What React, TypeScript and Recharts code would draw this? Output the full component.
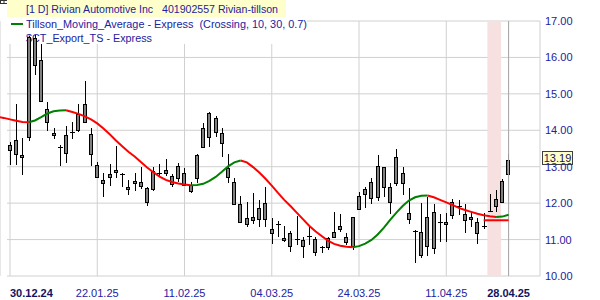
import React from 'react';
import {
  ComposedChart,
  Bar,
  Line,
  XAxis,
  YAxis,
  CartesianGrid,
  ReferenceArea,
  ReferenceLine,
  Customized,
} from 'recharts';

// x = trading-day index, 0 = 30.12.24 ... 80 = 28.04.25
const tickIdx = [0, 14, 28, 42, 56, 70, 80];
const tickLabels = ['30.12.24', '22.01.25', '11.02.25', '04.03.25', '24.03.25', '11.04.25', '28.04.25'];
const boldTicks = ['30.12.24', '28.04.25'];
const priceTicks = [10, 11, 12, 13, 14, 15, 16, 17];

// daily candles, index 0..80
const open = [
  13.46, 13.34, 13.31, 13.82, 16.54, 15.93, 14.58, 13.93, 13.55, 13.39,
  13.96, 14.01, 14.24, 13.89, 13.06, 12.63, 12.71, 12.91, 12.81, 12.43,
  12.54, 12.58, 12.41, 12.39, 12.84, 12.83, 12.74, 12.68, 12.83, 12.5,
  12.7, 13.53, 13.81, 14.33, 13.92, 12.97, 12.59, 11.98, 11.58, 11.54,
  11.86, 12.01, 11.28, 11.44, 11.04, 11.17, 11.02, 10.99, 11.09, 11.01,
  10.79, 10.79, 11.08, 11.3, 10.92, 10.81, 11.85, 12.24, 12.13, 12.16,
  12.99, 12.45, 12.55, 12.82, 11.74, 11.23, 10.58, 10.83, 10.76, 11.47,
  11.42, 11.67, 11.91, 11.69, 11.63, 11.49, 11.37, 11.79, 11.92, 12.04,
  12.8,
];
const high = [
  13.68, 14.73, 13.8, 16.6, 16.62, 16.37, 14.77, 14.05, 13.6, 14.12,
  14.23, 14.71, 15.35, 14.05, 13.14, 12.82, 13.07, 13.57, 12.83, 12.63,
  12.82, 12.98, 12.45, 12.98, 13.07, 13.22, 12.8, 13.09, 12.97, 12.59,
  13.35, 14.21, 14.49, 14.38, 14.05, 13.36, 12.69, 12.19, 12.04, 12.27,
  12.1, 12.43, 11.58, 11.52, 11.38, 11.24, 11.65, 11.08, 11.35, 11.08,
  10.83, 11.08, 11.75, 11.69, 11.17, 11.63, 12.31, 12.45, 12.68, 13.32,
  13.0, 12.55, 13.48, 12.99, 12.41, 11.26, 12.0, 12.18, 11.98, 11.69,
  11.74, 12.11, 12.1, 11.98, 11.77, 11.58, 11.72, 12.25, 12.35, 12.65,
  13.35,
];
const low = [
  13.05, 13.05, 12.77, 13.7, 15.52, 14.77, 13.97, 13.77, 13.03, 13.09,
  13.76, 13.95, 14.22, 13.03, 12.68, 12.18, 12.47, 12.68, 12.45, 12.22,
  12.34, 12.38, 11.91, 12.32, 12.74, 12.74, 12.43, 12.59, 12.47, 12.28,
  12.56, 13.51, 13.55, 13.81, 13.27, 12.56, 11.96, 11.47, 11.34, 11.44,
  11.35, 11.35, 10.87, 11.08, 10.94, 10.67, 10.85, 10.49, 10.85, 10.55,
  10.62, 10.71, 11.06, 11.22, 10.85, 10.71, 11.8, 11.88, 11.97, 12.07,
  12.18, 11.7, 12.47, 12.23, 11.44, 10.37, 10.49, 10.56, 10.6, 10.94,
  10.94, 11.56, 11.67, 11.17, 11.35, 10.87, 11.28, 11.77, 11.77, 12.01,
  12.77,
];
const close = [
  13.59, 13.73, 13.27, 16.55, 15.79, 14.8, 14.24, 13.88, 13.52, 13.88,
  13.94, 14.45, 14.73, 13.34, 12.72, 12.54, 12.8, 12.86, 12.79, 12.38,
  12.61, 12.48, 12.04, 12.89, 12.82, 12.92, 12.53, 13.02, 12.5, 12.32,
  13.33, 14.06, 14.47, 13.96, 13.65, 12.72, 11.98, 11.49, 11.44, 11.61,
  11.56, 11.56, 11.17, 11.42, 10.99, 10.83, 11.0, 10.82, 11.07, 10.65,
  10.77, 11.04, 11.2, 11.37, 11.06, 11.61, 12.2, 12.38, 12.57, 13.03,
  12.45, 12.04, 13.27, 12.55, 11.56, 11.21, 11.2, 11.61, 11.77, 11.45,
  11.48, 12.04, 11.89, 11.54, 11.56, 11.17, 11.36, 11.78, 12.11, 12.62,
  13.19,
];

// Tillson T3 (10, 30, 0.7); starts two bars before the first candle
const t3First = -2;
const t3 = [
  14.37, 14.34,
  14.3, 14.26, 14.23, 14.22, 14.27, 14.36, 14.46, 14.52, 14.54, 14.55,
  14.5, 14.45, 14.38, 14.3, 14.19, 14.05, 13.89, 13.72, 13.56, 13.41,
  13.28, 13.13, 12.98, 12.85, 12.73, 12.64, 12.58, 12.54, 12.51, 12.49,
  12.5, 12.53, 12.61, 12.72, 12.86, 13.01, 13.12, 13.17, 13.12, 12.99,
  12.84, 12.67, 12.48, 12.28, 12.09, 11.92, 11.74, 11.56, 11.38, 11.23,
  11.1, 10.97, 10.88, 10.83, 10.8, 10.79, 10.82, 10.89, 10.99, 11.14,
  11.33, 11.54, 11.74, 11.92, 12.07, 12.16, 12.2, 12.21, 12.16, 12.09,
  12.02, 11.95, 11.87, 11.81, 11.76, 11.71, 11.67, 11.64, 11.62, 11.63,
  11.68,
];

// crossing stop level drawn over the last bars
const stopFrom = 76;
const stopLevel = 11.53;
// highlighted bars
const markFrom = 76.6;
const markTo = 78.8;

const rows = t3.map((v, k) => {
  const i = k + t3First;
  const prev = t3[k - 1];
  const next = t3[k + 1];
  const rising = (prev !== undefined && v > prev) || (next !== undefined && next > v);
  const falling = (prev !== undefined && v < prev) || (next !== undefined && next < v);
  return {
    i,
    open: i >= 0 ? open[i] : null,
    high: i >= 0 ? high[i] : null,
    low: i >= 0 ? low[i] : null,
    close: i >= 0 ? close[i] : null,
    t3Up: rising ? v : null,
    t3Down: falling ? v : null,
    stop: i >= stopFrom ? stopLevel : null,
  };
});

const FONT = '"Liberation Sans", Arial, sans-serif';
const BLUE = '#2222a0';
const NAVY = '#12125e';

const Candle = (props: any) => {
  const { x, y, width, height, payload } = props;
  if (payload == null || payload.high == null || !isFinite(y)) return null;
  const { open: o, high: h, low: l, close: c } = payload;
  const py = (v: number) => y + ((h - v) / (h - l)) * height;
  const cx = Math.round(x + width / 2);
  const top = Math.round(py(Math.max(o, c)));
  const bot = Math.round(py(Math.min(o, c)));
  return (
    <g>
      <line x1={cx + 0.5} x2={cx + 0.5} y1={Math.round(y)} y2={Math.round(y + height)} stroke="#000" strokeWidth={1} />
      {bot - top < 2 ? (
        <line x1={cx - 2} x2={cx + 3} y1={top + 0.5} y2={top + 0.5} stroke="#000" strokeWidth={1} />
      ) : (
        <rect x={cx - 1.5} y={top + 0.5} width={3} height={bot - top} fill="#808080" stroke="#000" strokeWidth={1} />
      )}
    </g>
  );
};

const DateTick = ({ x, y, payload }: any) => {
  const k = tickIdx.indexOf(payload.value);
  const label = tickLabels[k];
  const bold = boldTicks.includes(label);
  return (
    <text
      x={x}
      y={y + 21}
      textAnchor={k === 0 ? 'start' : 'middle'}
      fontFamily={FONT}
      fontSize={11}
      fontWeight={bold ? 700 : 400}
      fill={bold ? NAVY : BLUE}
    >
      {label}
    </text>
  );
};

const PriceTick = ({ x, y, payload }: any) => (
  <text x={x + 5} y={y} dominantBaseline="central" fontFamily={FONT} fontSize={11} fill={BLUE}>
    {payload.value.toFixed(2)}
  </text>
);

const PriceTag = ({ viewBox }: any) => {
  if (!viewBox) return null;
  const left = viewBox.x + viewBox.width + 2.5;
  return (
    <g>
      <rect x={left} y={Math.round(viewBox.y) - 8.5} width={30} height={13} fill="#ffffc8" stroke="#404040" />
      <text x={left + 15} y={Math.round(viewBox.y) - 2} textAnchor="middle" dominantBaseline="central" fontFamily={FONT} fontSize={11} fill={NAVY}>
        {close[close.length - 1].toFixed(2)}
      </text>
    </g>
  );
};

// legend block in the top-left corner
const LegendBox = () => (
  <g fontFamily={FONT} fontSize={11} fill={BLUE}>
    <rect x={0.5} y={-3.5} width={7} height={7} fill="#fff" stroke="#333" />
    <line x1={4} x2={4} y1={0} y2={4} stroke="#333" />
    <line x1={0} x2={8} y1={0.5} y2={0.5} stroke="#333" />
    <rect x={7} y={0} width={279} height={17} fill="#ffffcc" />
    <text x={26} y={13} textLength={252} lengthAdjust="spacingAndGlyphs" style={{ whiteSpace: 'pre' }}>
      {'[1 D] Rivian Automotive Inc   401902557 Rivian-tillson'}
    </text>
    <rect x={7} y={17} width={300} height={27} fill="#fff" />
    <line x1={11} x2={23} y1={24} y2={24} stroke="#008000" strokeWidth={2} />
    <text x={26} y={28} textLength={281} lengthAdjust="spacingAndGlyphs" style={{ whiteSpace: 'pre' }}>
      {'Tillson_Moving_Average - Express  (Crossing, 10, 30, 0.7)'}
    </text>
    <text x={26} y={42} textLength={126} lengthAdjust="spacingAndGlyphs" style={{ whiteSpace: 'pre' }}>
      {'$CT_Export_TS - Express'}
    </text>
  </g>
);

export default function App() {
  return (
    <div style={{ position: 'absolute', left: 0, top: 0, width: 600, height: 300, background: '#fff' }}>
      <ComposedChart width={600} height={300} data={rows} margin={{ top: 21, right: 0, bottom: 0, left: 0 }}>
        <CartesianGrid
          stroke="#d0d0d0"
          horizontal={(p: any) => (
            <line key={p.key} x1={p.x1 + 7} y1={p.y1} x2={p.x2} y2={p.y2} stroke="#d0d0d0" strokeWidth={1} />
          )}
        />
        <XAxis
          dataKey="i"
          type="number"
          domain={[-1.604, 85.04]}
          allowDataOverflow
          ticks={tickIdx}
          interval={0}
          height={24}
          axisLine={false}
          tickLine={false}
          tickSize={0}
          tickMargin={0}
          tick={<DateTick />}
        />
        <YAxis
          orientation="right"
          type="number"
          domain={[10, 17]}
          ticks={priceTicks}
          interval={0}
          width={60}
          axisLine={false}
          tickLine={false}
          tickSize={0}
          tickMargin={0}
          tick={<PriceTick />}
        />
        <ReferenceArea x1={markFrom} x2={markTo} fill="#f6e0e0" fillOpacity={1} stroke="none" />
        <ReferenceLine x={tickIdx[tickIdx.length - 1]} stroke="#a8a8a8" strokeWidth={1} />
        <Customized component={LegendBox} />
        <Line dataKey="t3Down" stroke="#ff0000" strokeWidth={2} dot={false} isAnimationActive={false} connectNulls={false} />
        <Line dataKey="t3Up" stroke="#008000" strokeWidth={2} dot={false} isAnimationActive={false} connectNulls={false} />
        <Line dataKey="stop" stroke="#ff0000" strokeWidth={2} dot={false} isAnimationActive={false} connectNulls={false} />
        <Bar
          dataKey={(d: any) => (d.high == null ? null : [d.low, d.high])}
          barSize={4}
          shape={<Candle />}
          isAnimationActive={false}
        />
        <ReferenceLine y={close[close.length - 1]} stroke="none" label={<PriceTag />} />
      </ComposedChart>
    </div>
  );
}
